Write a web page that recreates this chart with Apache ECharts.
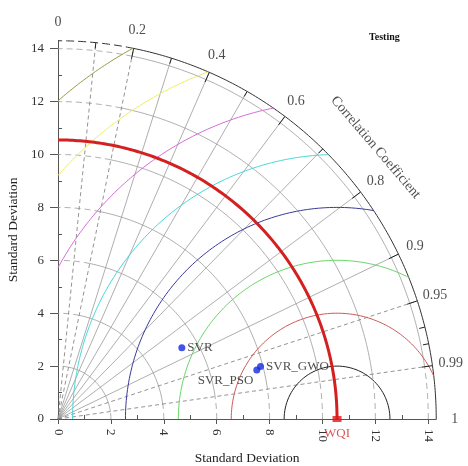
<!DOCTYPE html>
<html><head><meta charset="utf-8">
<script src="https://cdn.jsdelivr.net/npm/echarts@6/dist/echarts.min.js"></script>
<style>html,body{margin:0;padding:0;background:#fff}#c{width:468px;height:466px}</style>
</head><body><div id="c"></div>
<script>
// ---- data ----
const titleText = 'Testing';
const axisName = 'Standard Deviation';
const corrName = 'Correlation Coefficient';
const stdTicks = [0, 2, 4, 6, 8, 10, 12, 14];
const stdMinorTicks = [1, 3, 5, 7, 9, 11, 13];
const stdArcs = [2, 4, 6, 8, 10, 12, 14];
const corrLines = [0.1, 0.2, 0.3, 0.4, 0.5, 0.6, 0.7, 0.8, 0.9, 0.95, 0.99];
const corrDashed = [0.1, 0.2, 0.95, 0.99];
const corrLabels = ['0', '0.2', '0.4', '0.6', '0.8', '0.9', '0.95', '0.99', '1'];
const corrMinor = [0.1, 0.3, 0.5, 0.7, 0.97, 0.98];
const rmsLevels = [2, 4, 6, 8, 10, 12, 14, 16];
const rmsColors = ['#222222', '#cc5a5a', '#66d866', '#3a3a9a', '#48d8d8', '#d86ad8', '#eeee66', '#9a9a4a'];
const refName = 'WQI';
const refStd = 10.55;
const models = ['SVR', 'SVR_PSO', 'SVR_GWO'];
const modelStd = [5.40, 7.74, 7.91];
const modelCorr = [0.867, 0.971, 0.968];

// ---- layout ----
const R = 14.3;            // outer radius (std units)
const K = 26.45;           // px per unit
const FONT = 'Liberation Serif';
const deg = Math.PI / 180;

function arc(cx, r, a0, a1) {
  const pts = [];
  const n = Math.max(8, Math.ceil(Math.abs(a1 - a0) / 0.5));
  for (let i = 0; i <= n; i++) {
    const a = (a0 + (a1 - a0) * i / n) * deg;
    pts.push([cx + r * Math.cos(a), r * Math.sin(a)]);
  }
  return pts;
}
const series = [];
function line(pts, color, width, type, z) {
  series.push({type: 'line', data: pts, symbol: 'none', clip: false, silent: true,
    lineStyle: {color: color, width: width, type: type || 'solid'}, z: z || 2, animation: false});
}
const aLow = Math.acos(0.99) / deg;
const aHigh = Math.acos(0.2) / deg;

// std arcs (gray) : dashed near both axes, solid between
stdArcs.forEach(s => {
  line(arc(0, s, 0, aLow), '#9a9a9a', 0.8, [6, 4]);
  line(arc(0, s, aLow, aHigh), '#9a9a9a', 0.8);
  line(arc(0, s, aHigh, 90), '#9a9a9a', 0.8, [6, 4]);
});
// outer boundary
line(arc(0, R, 0, aLow), '#333', 1);
line(arc(0, R, aLow, aHigh), '#333', 1);
line(arc(0, R, aHigh, 90), '#333', 1, [8, 4]);

// radial correlation lines
corrLines.forEach(c => {
  const a = Math.acos(c);
  const dashed = corrDashed.indexOf(c) >= 0;
  line([[0, 0], [R * Math.cos(a), R * Math.sin(a)]], dashed ? '#777' : '#999', 0.8, dashed ? [4, 3] : 'solid');
});
// ticks on outer arc
corrLabels.forEach(t => {
  const c = parseFloat(t);
  if (c <= 0 || c >= 1) return;
  const a = Math.acos(c);
  line([[R * Math.cos(a), R * Math.sin(a)], [(R - 0.4) * Math.cos(a), (R - 0.4) * Math.sin(a)]], '#222', 1, 'solid', 5);
});
corrMinor.forEach(c => {
  const a = Math.acos(c);
  line([[R * Math.cos(a), R * Math.sin(a)], [(R - 0.22) * Math.cos(a), (R - 0.22) * Math.sin(a)]], '#222', 1, 'solid', 5);
});

// RMS contours around the reference
rmsLevels.forEach((r, i) => {
  const c = refStd;
  let cosA = (R * R - c * c - r * r) / (2 * c * r);
  cosA = Math.max(-1, Math.min(1, cosA));
  const t1 = Math.acos(cosA) / deg;
  const t2 = (c - r >= 0) ? 180 : Math.acos(-c / r) / deg;
  line(arc(c, r, t1, t2), rmsColors[i], 1, 'solid', 3);
});

// reference std arc
line(arc(0, refStd, 0, 90), '#d42020', 3, 'solid', 6);

// correlation labels
const corrLabelData = corrLabels.map(t => {
  const a = Math.acos(parseFloat(t));
  const rr = 15.0;
  return {name: t, value: [rr * Math.cos(a), rr * Math.sin(a)]};
});
series.push({type: 'scatter', data: corrLabelData, symbolSize: 1, clip: false, silent: true,
  itemStyle: {color: 'rgba(0,0,0,0)'}, animation: false,
  label: {show: true, position: 'inside', formatter: p => p.name, color: '#222', fontFamily: FONT, fontSize: 14}});
// correlation title along the arc
const titleAngle = Math.acos(0.76);
series.push({type: 'scatter', data: [{name: corrName, value: [15.8 * Math.cos(titleAngle), 15.8 * Math.sin(titleAngle)]}],
  symbolSize: 1, clip: false, silent: true, itemStyle: {color: 'rgba(0,0,0,0)'}, animation: false,
  label: {show: true, position: 'inside', formatter: p => p.name, rotate: -(90 - titleAngle / deg),
    color: '#222', fontFamily: FONT, fontSize: 14}});

// reference point
series.push({type: 'scatter', data: [{name: refName, value: [refStd, 0]}], symbol: 'rect', symbolSize: [9, 6],
  clip: false, itemStyle: {color: '#e01818'}, z: 8, animation: false,
  label: {show: true, position: 'bottom', distance: 5, formatter: p => p.name, color: '#cc3030', fontFamily: FONT, fontSize: 13}});

// model points
const labelPos = {'SVR': {position: 'right', offset: [0, 0]}, 'SVR_GWO': {position: 'right', offset: [0, 0]},
  'SVR_PSO': {position: 'left', offset: [2, 11]}};
series.push({type: 'scatter', clip: false, symbolSize: 7, itemStyle: {color: '#1428e0'}, z: 9, animation: false,
  data: models.map((m, i) => {
    const a = Math.acos(modelCorr[i]);
    return {name: m, value: [modelStd[i] * Math.cos(a), modelStd[i] * Math.sin(a)],
      label: {show: true, position: labelPos[m].position, offset: labelPos[m].offset, distance: 2}};
  }),
  label: {show: true, formatter: p => p.name, color: '#222', fontFamily: FONT, fontSize: 13}});

const axisCommon = {type: 'value', min: 0, max: R, interval: 2, splitLine: {show: false}};
const chart = echarts.init(document.getElementById('c'));
chart.setOption({
  backgroundColor: '#fff',
  animation: false,
  title: {text: titleText, left: 364, top: 27, textStyle: {fontFamily: FONT, fontSize: 10, fontWeight: 'bold', color: '#111'}},
  grid: {left: 58, top: 419 - R * K, width: R * K, height: R * K, containLabel: false, outerBoundsMode: 'none'},
  xAxis: [
    Object.assign({}, axisCommon, {position: 'bottom',
      axisLine: {show: true, lineStyle: {color: '#555', width: 1}},
      axisTick: {show: true, customValues: stdTicks, length: 5, lineStyle: {color: '#555'}},
      axisLabel: {customValues: stdTicks, rotate: -90, margin: 10, fontFamily: FONT, fontSize: 13, color: '#333'},
      name: axisName, nameLocation: 'middle', nameGap: 32, nameTextStyle: {fontFamily: FONT, fontSize: 13.5, color: '#222'}}),
    Object.assign({}, axisCommon, {position: 'bottom', axisLine: {show: false},
      axisTick: {show: true, inside: true, customValues: stdMinorTicks, length: 4, lineStyle: {color: '#555'}},
      axisLabel: {show: false}})
  ],
  yAxis: [
    Object.assign({}, axisCommon, {position: 'left',
      axisLine: {show: true, lineStyle: {color: '#555', width: 1}},
      axisTick: {show: true, customValues: stdTicks, length: 8, lineStyle: {color: '#555'}},
      axisLabel: {customValues: stdTicks, margin: 14, fontFamily: FONT, fontSize: 13, color: '#333'},
      name: axisName, nameLocation: 'middle', nameGap: 33, nameTextStyle: {fontFamily: FONT, fontSize: 13.5, color: '#222'}}),
    Object.assign({}, axisCommon, {position: 'left', axisLine: {show: false},
      axisTick: {show: true, inside: true, customValues: stdMinorTicks, length: 4, lineStyle: {color: '#555'}},
      axisLabel: {show: false}})
  ],
  series: series
});
</script></body></html>
